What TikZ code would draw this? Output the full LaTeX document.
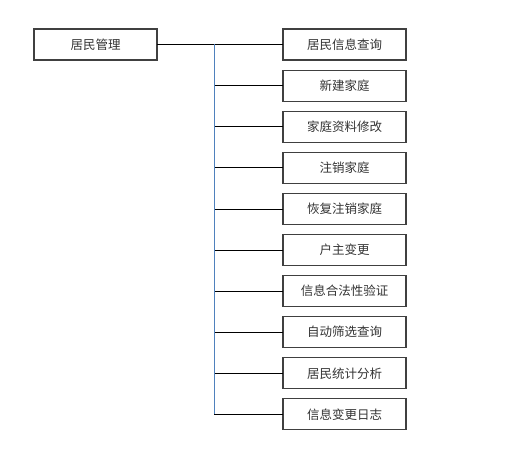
\documentclass[tikz,border=0pt]{standalone}
\usepackage{fontspec}
\newfontfamily\cjk{Noto Sans CJK SC}
\usetikzlibrary{positioning}

\begin{document}
\begin{tikzpicture}[
            x=1pt, y=-1pt,
            every node/.style={font=\cjk\fontsize{12.5}{14}\selectfont, text=black!80},
            box/.style={draw=black!75, line width=1.1pt, outer sep=0pt,
                minimum width=123pt, minimum height=31pt, inner sep=0pt},
            bus/.style={draw={rgb,255:red,79;green,129;blue,189}, line width=0.9pt},
            link/.style={draw=black, line width=0.8pt}
        ]
        \useasboundingbox (0,0) rectangle (511,457);
        \node[box] (jm) at (95.5,44.5) {居民管理};
        \node[box] (cx) at (344.5,44.5) {居民信息查询};
        \node[box, below=10.1pt of cx] (xj) {新建家庭};
        \node[box, below=10.1pt of xj] (zl) {家庭资料修改};
        \node[box, below=10.1pt of zl] (zx) {注销家庭};
        \node[box, below=10.1pt of zx] (hf) {恢复注销家庭};
        \node[box, below=10.1pt of hf] (hz) {户主变更};
        \node[box, below=10.1pt of hz] (yz) {信息合法性验证};
        \node[box, below=10.1pt of yz] (sx) {自动筛选查询};
        \node[box, below=10.1pt of sx] (tj) {居民统计分析};
        \node[box, below=10.1pt of tj] (rz) {信息变更日志};
        \coordinate (trunk) at (214,0);
        % root to first child
        \draw[link] (jm.east) -- (cx.west);
        % branches off the trunk
        \foreach \nodename in {xj, zl, zx, hf, hz, yz, sx, tj, rz}
            \draw[link] (\nodename.west -| trunk) -- (\nodename.west);
        \draw[bus] (jm.east -| trunk) -- (rz.west -| trunk);
\end{tikzpicture}
\end{document}
